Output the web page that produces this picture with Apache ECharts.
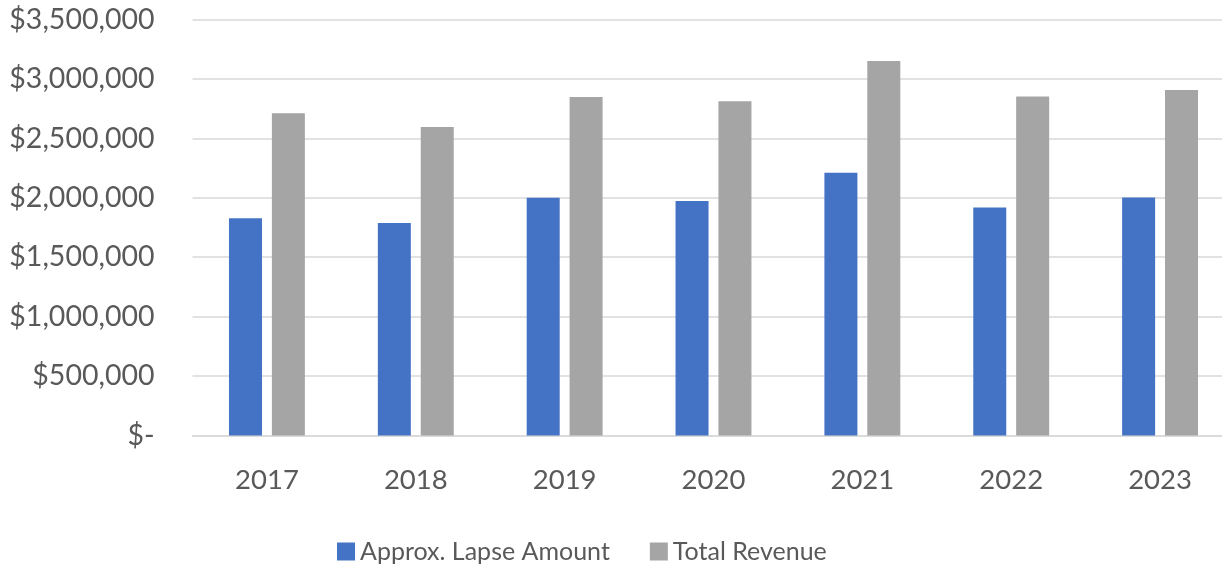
<!DOCTYPE html>
<html>
<head>
<meta charset="utf-8">
<script src="https://cdn.jsdelivr.net/npm/echarts@6/dist/echarts.min.js"></script>
<style>
    html, body { margin: 0; padding: 0; background: #fff; }
    #chartDiv { width: 1222px; height: 568px; }
</style>
</head>
<body>
<div id="chartDiv"></div>
<script>
var years = ['2017', '2018', '2019', '2020', '2021', '2022', '2023'];
var lapseAmount = [1827000, 1787000, 2000000, 1972000, 2210000, 1919000, 2003000];
var totalRevenue = [2712000, 2595000, 2849000, 2813000, 3150000, 2853000, 2906000];
var seriesNames = ['Approx. Lapse Amount', 'Total Revenue'];

var textColor = '#595959';
var fontName = 'Lato';

// $3,500,000 style, zero shows as "$-"
function moneyLabel(v) {
    if (v == 0) return '$-';
    return '$' + String(v).replace(/\B(?=(\d{3})+(?!\d))/g, ',');
}

var myChart_1 = echarts.init(document.getElementById('chartDiv'));
var option = {
    animation: false,
    color: ['#4472c4', '#a5a5a5'],
    grid: {
        left: 192.5,
        width: 1042,
        top: 19.5,
        bottom: 132.5,
        containLabel: false,
        outerBoundsMode: 'none'
    },
    legend: {
        left: 332,
        top: 534,
        itemWidth: 18,
        itemHeight: 18,
        itemGap: 40,
        icon: 'rect',
        textStyle: {
            fontFamily: fontName,
            fontSize: 25,
            color: textColor
        },
        data: seriesNames
    },
    xAxis: {
        type: 'category',
        data: years,
        axisTick: { show: false },
        axisLine: {
            lineStyle: { color: '#d9d9d9', width: 1.5 }
        },
        axisLabel: {
            margin: 31,
            fontFamily: fontName,
            fontSize: 27.5,
            color: textColor
        }
    },
    yAxis: {
        type: 'value',
        min: 0,
        max: 3500000,
        interval: 500000,
        axisLine: { show: false },
        axisTick: { show: false },
        splitLine: {
            lineStyle: { color: '#d9d9d9', width: 1.5 }
        },
        axisLabel: {
            margin: 38,
            fontFamily: fontName,
            fontSize: 28.5,
            color: textColor,
            formatter: moneyLabel
        }
    },
    series: [
        {
            name: seriesNames[0],
            type: 'bar',
            barWidth: 33,
            barGap: '30%',
            data: lapseAmount
        },
        {
            name: seriesNames[1],
            type: 'bar',
            barWidth: 33,
            barGap: '30%',
            data: totalRevenue
        }
    ]
};
myChart_1.setOption(option);
</script>
</body>
</html>
